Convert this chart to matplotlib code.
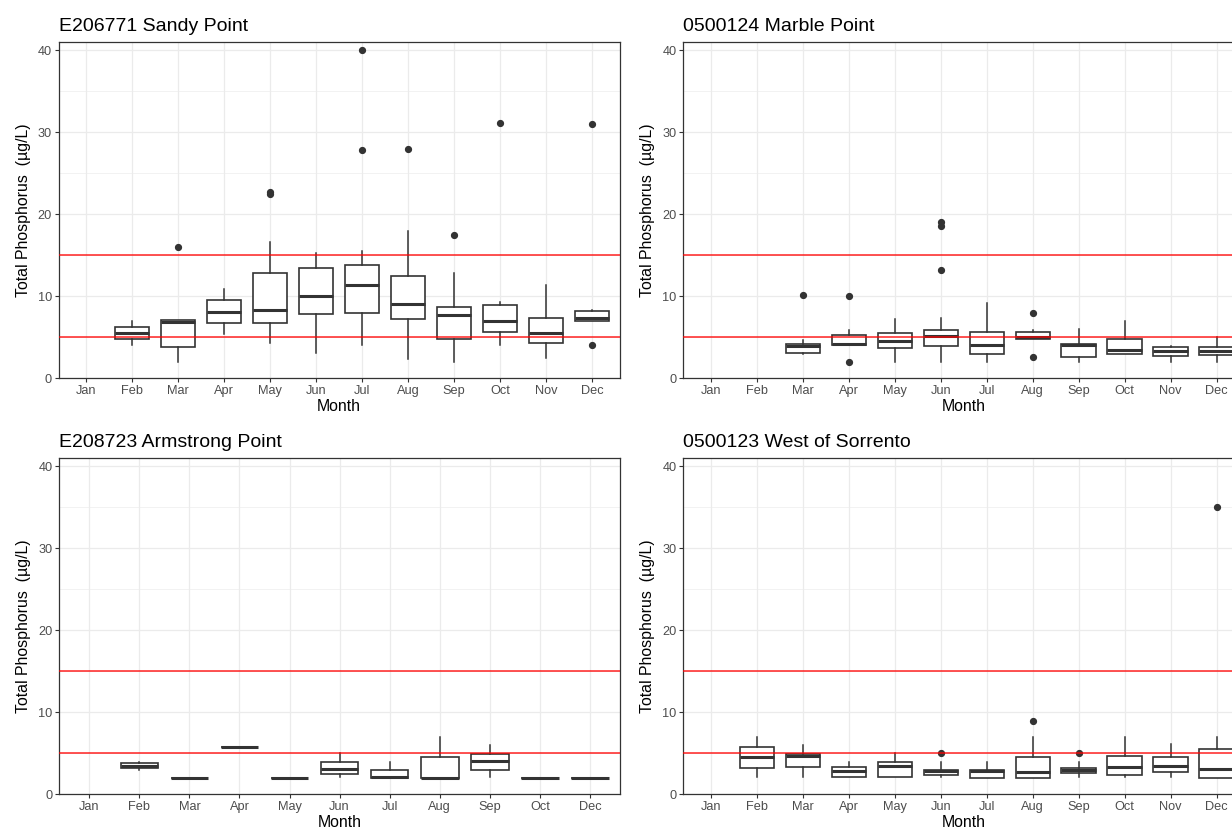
import matplotlib
matplotlib.use("Agg")
import matplotlib.pyplot as plt

plt.rcParams["font.family"] = ["Liberation Sans", "DejaVu Sans"]

MONTHS = ["Jan", "Feb", "Mar", "Apr", "May", "Jun",
          "Jul", "Aug", "Sep", "Oct", "Nov", "Dec"]
MONTHS_NO_NOV = ["Jan", "Feb", "Mar", "Apr", "May", "Jun",
                 "Jul", "Aug", "Sep", "Oct", "Dec"]
YLABEL = "Total Phosphorus  (µg/L)"
GUIDES = [5, 15]   # red reference lines

# ---- E206771 Sandy Point ----
sandy_months = ["Feb", "Mar", "Apr", "May", "Jun", "Jul",
                "Aug", "Sep", "Oct", "Nov", "Dec"]
sandy_q1 = [4.76, 3.86, 6.79, 6.79, 7.8, 7.97, 7.2, 4.84, 5.65, 4.35, 6.95]
sandy_med = [5.53, 6.83, 8.13, 8.37, 10.04, 11.42, 9.02, 7.68, 6.99, 5.49, 7.32]
sandy_q3 = [6.26, 7.11, 9.51, 12.89, 13.46, 13.82, 12.52, 8.66, 8.94, 7.32, 8.25]
sandy_lo = [4.07, 2.03, 5.45, 4.35, 3.05, 4.02, 2.4, 2.03, 4.02, 2.48, 6.95]
sandy_hi = [6.95, 7.11, 10.85, 16.67, 15.33, 15.49, 18.0, 12.85, 9.35, 11.38, 8.33]
sandy_out = [[], [16.0], [], [22.5, 22.7], [], [40.0, 27.8],
             [27.9], [17.5], [31.1], [], [4.1, 31.0]]

# ---- 0500124 Marble Point ----
marble_months = ["Mar", "Apr", "May", "Jun", "Jul",
                 "Aug", "Sep", "Oct", "Nov", "Dec"]
marble_q1 = [3.09, 4.02, 3.7, 3.98, 3.0, 4.8, 2.56, 2.93, 2.68, 2.89]
marble_med = [3.98, 4.23, 4.51, 5.2, 4.1, 5.08, 4.07, 3.5, 3.37, 3.37]
marble_q3 = [4.19, 5.33, 5.49, 5.93, 5.65, 5.65, 4.23, 4.84, 3.86, 3.86]
marble_lo = [3.0, 4.02, 2.0, 2.0, 2.0, 4.8, 2.0, 2.93, 2.0, 2.0]
marble_hi = [4.63, 5.93, 7.2, 7.36, 9.19, 5.93, 5.98, 7.0, 3.98, 5.08]
marble_out = [[10.16], [10.08, 2.0], [], [13.2, 18.6, 19.0], [],
              [8.0, 2.6], [], [], [], []]

# ---- E208723 Armstrong Point ----
arm_months = ["Feb", "Mar", "Apr", "May", "Jun", "Jul",
              "Aug", "Sep", "Oct", "Dec"]
arm_q1 = [3.17, 2.0, 5.77, 2.0, 2.44, 2.0, 2.0, 2.97, 2.0, 2.0]
arm_med = [3.5, 2.0, 5.77, 2.0, 3.05, 2.05, 2.0, 4.0, 2.0, 2.0]
arm_q3 = [3.78, 2.0, 5.77, 2.0, 3.98, 3.0, 4.5, 4.96, 2.0, 2.0]
arm_lo = [2.97, 2.0, 5.77, 2.0, 2.1, 2.0, 2.0, 2.07, 2.0, 2.0]
arm_hi = [3.94, 2.0, 5.77, 2.0, 5.0, 3.94, 7.0, 5.98, 2.0, 2.0]
arm_out = [[], [], [], [], [], [], [], [], [], []]

# ---- 0500123 West of Sorrento ----
sor_months = ["Feb", "Mar", "Apr", "May", "Jun", "Jul",
              "Aug", "Sep", "Oct", "Nov", "Dec"]
sor_q1 = [3.21, 3.29, 2.15, 2.07, 2.32, 2.0, 2.0, 2.56, 2.4, 2.68, 2.0]
sor_med = [4.55, 4.63, 2.85, 3.41, 2.89, 2.89, 2.68, 2.93, 3.29, 3.5, 3.13]
sor_q3 = [5.73, 4.92, 3.33, 3.9, 3.0, 3.0, 4.55, 3.25, 4.67, 4.55, 5.53]
sor_lo = [2.07, 2.07, 2.07, 2.07, 2.1, 2.0, 2.0, 2.07, 2.07, 2.07, 2.0]
sor_hi = [7.0, 5.98, 3.94, 5.0, 3.94, 3.94, 7.0, 3.94, 7.0, 6.14, 7.0]
sor_out = [[], [], [], [], [5.0], [], [8.98], [5.0], [], [], [35.0]]


def box_stats(q1, med, q3, lo, hi, out):
    return [dict(q1=a, med=b, q3=c, whislo=d, whishi=e, fliers=f)
            for a, b, c, d, e, f in zip(q1, med, q3, lo, hi, out)]


def draw_panel(fig, rect, title, cats, months, q1, med, q3, lo, hi, out):
    ax = fig.add_axes(rect)
    dark = "#333333"
    pos = [cats.index(m) + 1 for m in months]
    ax.bxp(box_stats(q1, med, q3, lo, hi, out), positions=pos, widths=0.75,
           showcaps=False, patch_artist=True, manage_ticks=False,
           boxprops=dict(facecolor="white", edgecolor=dark, lw=1.2),
           medianprops=dict(color=dark, lw=2.2, solid_capstyle="butt"),
           whiskerprops=dict(color=dark, lw=1.1),
           flierprops=dict(marker="o", markerfacecolor=dark,
                           markeredgecolor=dark, markersize=4.2))
    for g in GUIDES:
        ax.axhline(g, color="red", lw=1.2, alpha=0.8, zorder=5)

    ax.set_xlim(0.4, len(cats) + 0.6)
    ax.set_ylim(0, 40.95)
    ax.set_xticks(range(1, len(cats) + 1))
    ax.set_xticklabels(cats)
    ax.set_yticks([0, 10, 20, 30, 40])
    ax.set_yticks([5, 15, 25, 35], minor=True)
    ax.grid(True, which="major", color="#EBEBEB", lw=0.9)
    ax.grid(True, which="minor", axis="y", color="#EBEBEB", lw=0.45)
    ax.set_axisbelow(True)
    ax.tick_params(which="major", length=2.9, width=0.8, color=dark,
                   labelcolor="#4D4D4D", labelsize=9.2, pad=2)
    ax.tick_params(which="minor", length=0)
    for s in ax.spines.values():
        s.set_color(dark)
        s.set_linewidth(0.9)
    ax.set_xlabel("Month", fontsize=11.4, labelpad=1.5)
    ax.set_ylabel(YLABEL, fontsize=11.4, labelpad=5)
    ax.set_title(title, loc="left", fontsize=14, pad=8)
    return ax


fig = plt.figure(figsize=(12.32, 8.31), dpi=100)
W = 560.8 / 1232
H = 336.0 / 831
draw_panel(fig, [58.7 / 1232, 1 - 378.3 / 831, W, H], "E206771 Sandy Point",
           MONTHS, sandy_months, sandy_q1, sandy_med, sandy_q3,
           sandy_lo, sandy_hi, sandy_out)
draw_panel(fig, [683.4 / 1232, 1 - 378.3 / 831, W, H], "0500124 Marble Point",
           MONTHS, marble_months, marble_q1, marble_med, marble_q3,
           marble_lo, marble_hi, marble_out)
draw_panel(fig, [59.2 / 1232, 1 - 794.3 / 831, W, H], "E208723 Armstrong Point",
           MONTHS_NO_NOV, arm_months, arm_q1, arm_med, arm_q3,
           arm_lo, arm_hi, arm_out)
draw_panel(fig, [683.4 / 1232, 1 - 794.3 / 831, W, H], "0500123 West of Sorrento",
           MONTHS, sor_months, sor_q1, sor_med, sor_q3,
           sor_lo, sor_hi, sor_out)

fig.savefig("out.png", dpi=100)
